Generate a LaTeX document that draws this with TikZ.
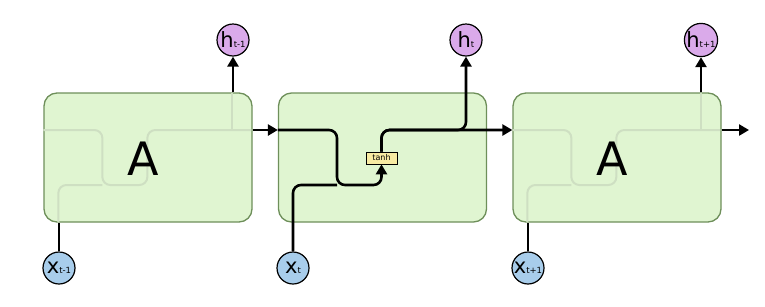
\documentclass[tikz,border=0pt]{standalone}
\usepackage{fontspec}
\setmainfont{DejaVu Sans}
\usetikzlibrary{arrows.meta, positioning}
\definecolor{cellGreen}{HTML}{E0F5D1}
\definecolor{cellEdge}{HTML}{6E8F5A}
\definecolor{ghostLine}{HTML}{CEDFC2}
\definecolor{outPurple}{HTML}{DAAAEA}
\definecolor{inBlue}{HTML}{A8CDEB}
\definecolor{gateYellow}{HTML}{F8EBA3}
\newcommand{\sublbl}[2]{#1{\fontsize{8.5}{8.5}\selectfont #2}}
\tikzset{
  flow/.style={line width=2.6pt, rounded corners=8pt},
  flowA/.style={flow, -{Triangle[length=10pt,width=11pt]}},
  ghost/.style={line width=2pt, color=ghostLine, rounded corners=8pt},
  cellbox/.style={rectangle, rounded corners=13pt, draw=cellEdge, fill=cellGreen,
                  line width=1.3pt, minimum width=208pt, minimum height=129pt},
  hnode/.style={circle, draw=black, line width=1.2pt, fill=outPurple, minimum size=32pt,
                inner sep=0pt, font=\fontsize{21}{21}\selectfont},
  xnode/.style={circle, draw=black, line width=1.2pt, fill=inBlue, minimum size=32pt,
                inner sep=0pt, font=\fontsize{21}{21}\selectfont},
  gate/.style={rectangle, draw=black, line width=0.7pt, fill=gateYellow,
               font=\fontsize{8}{8}\selectfont, inner sep=1.5pt,
               minimum width=31pt, minimum height=12pt},
  bigA/.style={font=\fontsize{46}{46}\selectfont},
}
\begin{document}
\begin{tikzpicture}[x=1pt, y=-1pt]
  \useasboundingbox (0,0) rectangle (765,306);
  \coordinate (row) at (0,130);
  % the three cells
  \node[cellbox] (A1) at (148,157.5) {};
  \node[cellbox] (cell) at (382.5,157.5) {};
  \node[cellbox] (A3) at (617,157.5) {};
  % faint routes inside the folded cells
  \foreach \b in {A1,A3} {
    \begin{scope}[shift={(\b.west)}]
      \draw[ghost] (0,-27.5) -| (59,27.5) -- (104,27.5) -- (104,0);
      \draw[ghost] (15,64.5) |- (59,27.5);
      \draw[ghost] (104,0) |- (189,-27.5) -- (208,-27.5);
      \draw[ghost] (189,-27.5) -- (189,-64.5);
    \end{scope}
  }
  \node[bigA] (lblA1) at (143,159) {A};
  \node[bigA] (lblA3) at (612,159) {A};
  \node[gate] (tanh) at (381.5,158) {tanh};
  % outputs and inputs
  \node[hnode] (h1) at (233,40) {\sublbl{h}{t-1}};
  \node[hnode] (h2) at (466,40) {\sublbl{h}{t}};
  \node[hnode] (h3) at (701,40) {\sublbl{h}{t+1}};
  \node[xnode] (x1) at (59,268) {\sublbl{x}{t-1}};
  \node[xnode] (x2) at (293,268) {\sublbl{x}{t}};
  \node[xnode] (x3) at (528,268) {\sublbl{x}{t+1}};
  \coordinate (mid) at (337,185);
  \coordinate (out) at (749,130);
  % first cell
  \draw[flow] (x1.north) -- (x1 |- A1.south);
  \draw[flowA] (h1 |- A1.north) -- (h1.south);
  \draw[flowA] (A1.east |- row) -- (cell.west |- row);
  % middle cell
  \draw[flowA] (cell.west |- row) -| (mid) -| (tanh.south);
  \draw[flow] (x2.north) |- (mid);
  \draw[flowA] (tanh.north) |- (h2 |- row) -- (h2.south);
  \draw[flowA] (tanh.north) |- (A3.west |- row);
  % last cell
  \draw[flow] (x3.north) -- (x3 |- A3.south);
  \draw[flowA] (h3 |- A3.north) -- (h3.south);
  \draw[flowA] (A3.east |- row) -- (out);
\end{tikzpicture}
\end{document}
